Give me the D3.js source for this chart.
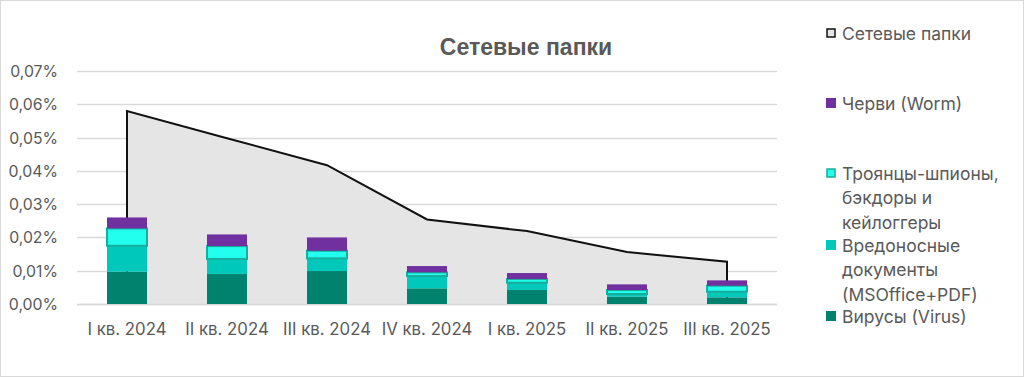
<!DOCTYPE html>
<html><head><meta charset="utf-8">
<script src="https://cdn.jsdelivr.net/npm/d3@7"></script>
<style>body{margin:0;background:#fff}svg{display:block}</style>
</head><body><svg id="c" width="1024" height="377"></svg>
<script>
const categories = ["I кв. 2024","II кв. 2024","III кв. 2024","IV кв. 2024","I кв. 2025","II кв. 2025","III кв. 2025"];
const networkFolders = [0.058,0.0498,0.0417,0.0254,0.0219,0.0156,0.0127];
const virus     = [0.0097,0.0090,0.0099,0.0047,0.0042,0.0022,0.0020];
const documents = [0.0078,0.0045,0.0038,0.0037,0.0022,0.0008,0.0017];
const trojans   = [0.0052,0.0039,0.0023,0.0011,0.0011,0.0012,0.0018];
const worm      = [0.0033,0.0035,0.0040,0.0019,0.0018,0.0017,0.0016];
const yTicks = [0,0.01,0.02,0.03,0.04,0.05,0.06,0.07];
const seriesNames = ["Вирусы (Virus)","Вредоносные документы (MSOffice+PDF)","Троянцы-шпионы, бэкдоры и кейлоггеры","Черви (Worm)"];

const svg = d3.select("#c");
const font = "Inter, 'Noto Sans', sans-serif";
const txt = "#595959";

svg.append("rect").attr("x",0.5).attr("y",0.5).attr("width",1023).attr("height",376)
  .attr("fill","#fff").attr("stroke","#d9d9d9");

const x = d3.scaleBand().domain(categories).range([77,777]).paddingInner(0.6).paddingOuter(0.3);
const y = d3.scaleLinear().domain([0,0.07]).range([304,71]);

// gridlines
svg.append("g").selectAll("line").data(yTicks).join("line")
  .attr("x1",77).attr("x2",777).attr("y1",d=>Math.round(y(d))+0.5).attr("y2",d=>Math.round(y(d))+0.5)
  .attr("stroke","#d9d9d9").attr("stroke-width",1.5);

// y labels
const fmt = d => d3.format(".2f")(d).replace(".",",")+"%";
svg.append("g").selectAll("text").data(yTicks).join("text")
  .attr("x",58).attr("y",d=>y(d)+6).attr("text-anchor","end")
  .attr("font-family",font).attr("font-size",15.8).attr("fill",txt).text(fmt);

// area
const cx = c => x(c)+x.bandwidth()/2;
const pts = categories.map((c,i)=>[cx(c), networkFolders[i]]);
const area = d3.area().x(d=>d[0]).y0(y(0)).y1(d=>y(d[1]));
svg.append("path").datum(pts).attr("d",area).attr("fill","#e5e5e5");
const outline = [[pts[0][0],0],...pts,[pts[pts.length-1][0],0]];
svg.append("path").datum(outline).attr("d",d3.line().x(d=>d[0]).y(d=>y(d[1])))
  .attr("fill","none").attr("stroke","#111").attr("stroke-width",2);

// baseline
svg.append("line").attr("x1",77).attr("x2",777).attr("y1",y(0)+0.5).attr("y2",y(0)+0.5)
  .attr("stroke","#d9d9d9").attr("stroke-width",1.5);

// stacked bars
const data = categories.map((c,i)=>({cat:c, v:virus[i], d:documents[i], t:trojans[i], w:worm[i]}));
const stack = d3.stack().keys(["v","d","t","w"])(data);
const fills = {v:"#00826e", d:"#00c9bc", t:"#22ffee", w:"#7030a0"};
const strokes = {v:"none", d:"none", t:"#16ae9c", w:"none"};
stack.forEach(layer=>{
  svg.append("g").selectAll("rect").data(layer).join("rect")
    .attr("x",d=>x(d.data.cat)).attr("width",x.bandwidth())
    .attr("y",d=>y(d[1])).attr("height",d=>y(d[0])-y(d[1]))
    .attr("fill",fills[layer.key])
    .attr("stroke",strokes[layer.key]).attr("stroke-width",2);
});

// x labels
svg.append("g").selectAll("text").data(categories).join("text")
  .attr("x",d=>cx(d)).attr("y",335).attr("text-anchor","middle")
  .attr("font-family",font).attr("font-size",16.8).attr("fill",txt).text(d=>d);

// title
svg.append("text").attr("x",526).attr("y",55).attr("text-anchor","middle")
  .attr("font-family","'Liberation Sans', Arial, sans-serif").attr("font-weight","bold")
  .attr("font-size",23).attr("fill",txt).text("Сетевые папки");

// legend
const legend = [
  {lines:["Сетевые папки"], y:33, fill:"#e5e5e5", stroke:"#111"},
  {lines:["Черви (Worm)"], y:103, fill:"#7030a0", stroke:"none"},
  {lines:["Троянцы-шпионы,","бэкдоры и","кейлоггеры"], y:173, fill:"#22ffee", stroke:"#16ae9c"},
  {lines:["Вредоносные","документы","(MSOffice+PDF)"], y:245, fill:"#00c9bc", stroke:"none"},
  {lines:["Вирусы (Virus)"], y:316, fill:"#00826e", stroke:"none"}
];
const lg = svg.append("g").selectAll("g").data(legend).join("g");
lg.append("rect").attr("x",d=>d.stroke==="none"?826:827).attr("y",d=>d.y-(d.stroke==="none"?5:4))
  .attr("width",d=>d.stroke==="none"?10:8).attr("height",d=>d.stroke==="none"?10:8)
  .attr("fill",d=>d.fill).attr("stroke",d=>d.stroke).attr("stroke-width",1.5);
lg.each(function(d){
  const t = d3.select(this).append("text").attr("font-family",font).attr("font-size",17.5).attr("fill",txt);
  d.lines.forEach((l,i)=>t.append("tspan").attr("x",842).attr("y",d.y+6.5+i*24.6).text(l));
});
</script></body></html>
